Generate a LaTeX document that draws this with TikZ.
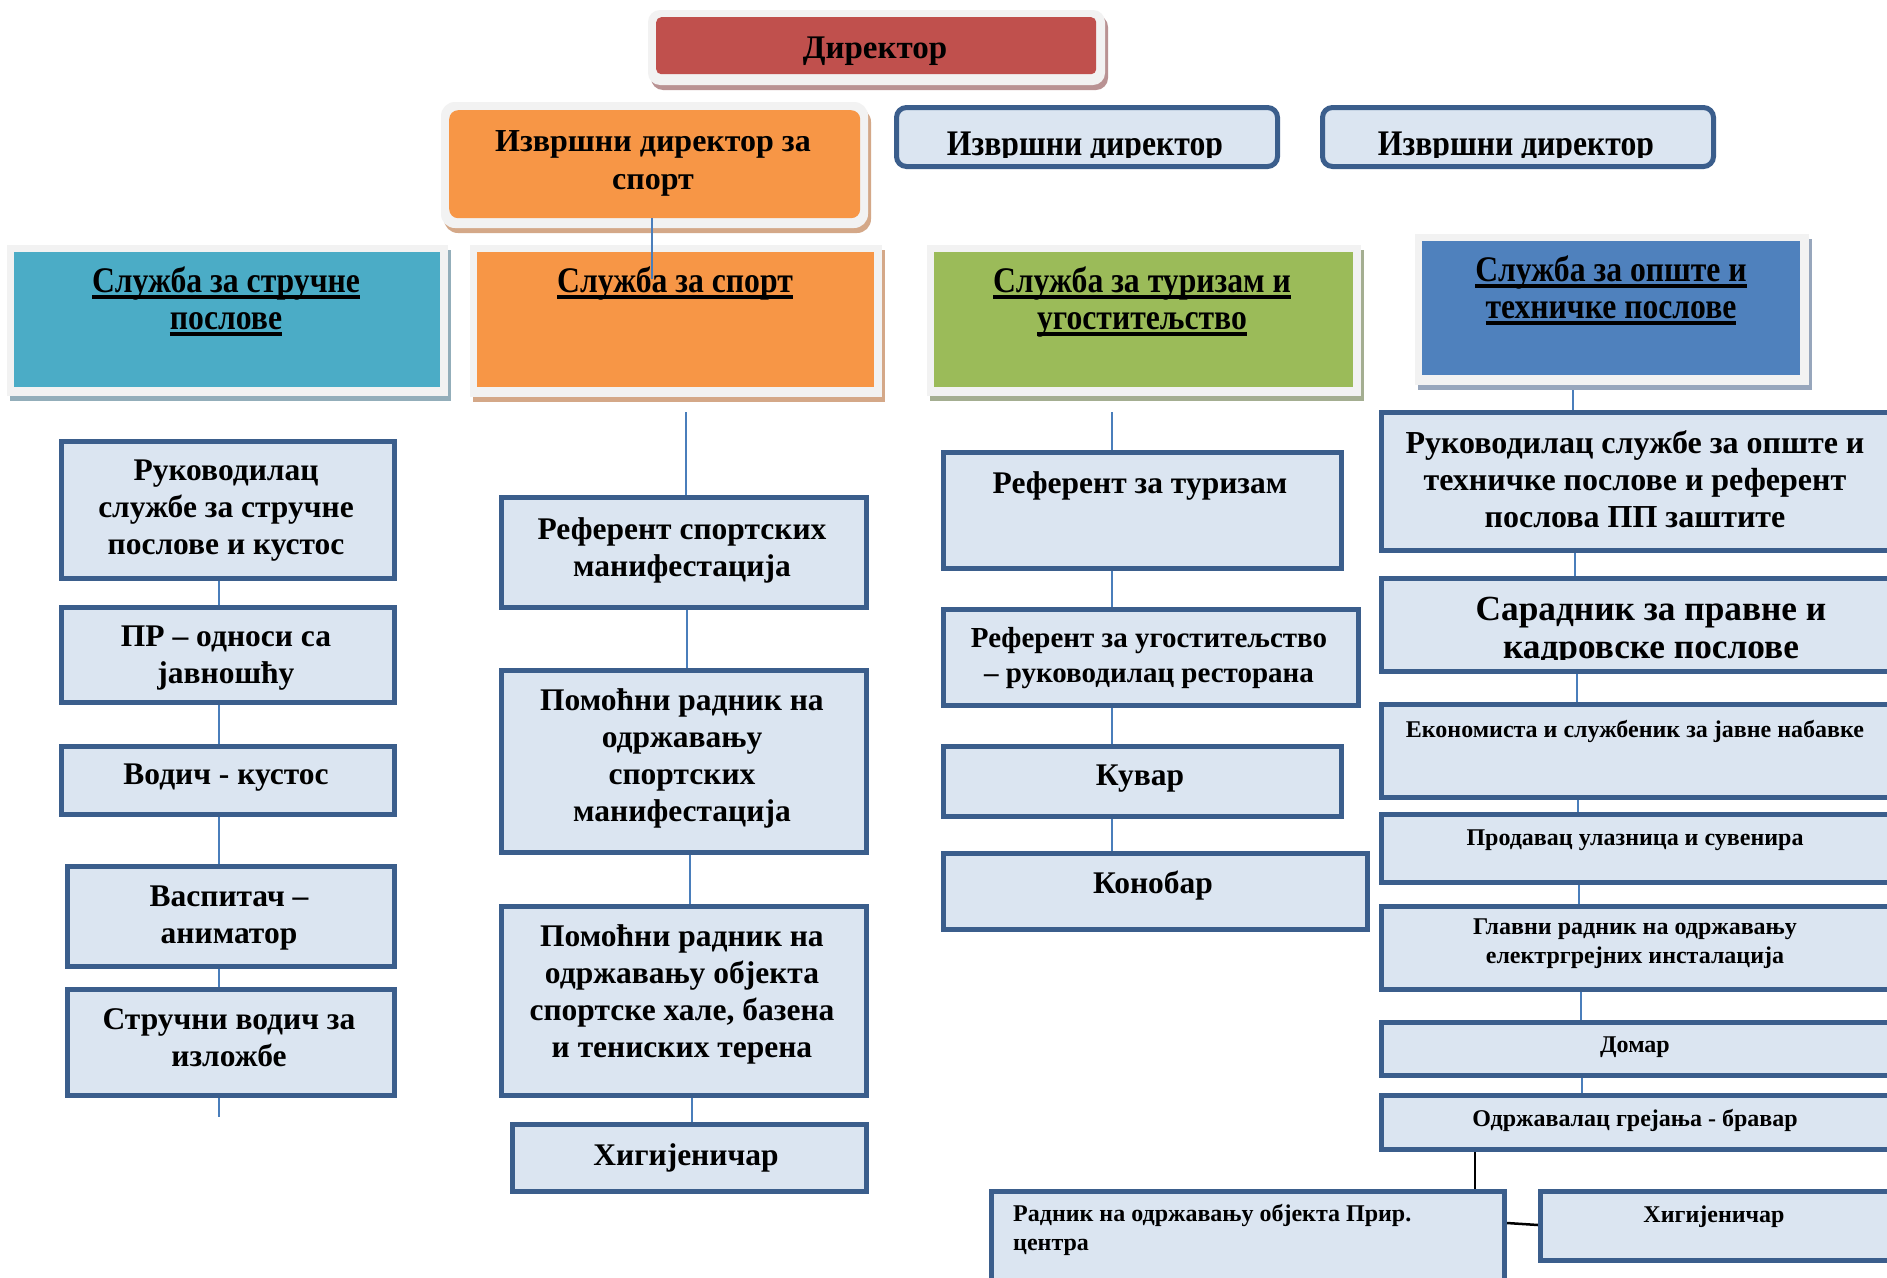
\documentclass[tikz,border=0pt]{standalone}
\usepackage{fontspec}
\setmainfont{Liberation Serif}
\newfontfamily\condf[FakeStretch=0.88]{Liberation Serif}
\definecolor{cred}{HTML}{C0504D}
\definecolor{corange}{HTML}{F79646}
\definecolor{cteal}{HTML}{4BACC6}
\definecolor{cgreen}{HTML}{9BBB59}
\definecolor{cblue}{HTML}{4F81BD}
\definecolor{boxf}{HTML}{DBE5F1}
\definecolor{boxb}{HTML}{3B5E8C}
\definecolor{lineb}{HTML}{4A7EBB}
\definecolor{framec}{HTML}{F2F2F2}
\definecolor{shred}{HTML}{B99293}
\definecolor{shorange}{HTML}{D4A888}
\definecolor{shteal}{HTML}{93AEBA}
\definecolor{shgreen}{HTML}{A4AE91}
\definecolor{shblue}{HTML}{97A6BC}
\pgfdeclarelayer{bg}
\pgfsetlayers{bg,main}
\newsavebox\ulbox
\newcommand\ul[1]{\sbox\ulbox{#1}\rlap{\rule[-6pt]{\wd\ulbox}{3.5pt}}\usebox\ulbox}
\newcommand\bx[6]{\node[#6, anchor=north west, inner sep=0pt, minimum width={#4-#2}, minimum height={#5-#3}] (#1) at (#2,#3) {};}
\tikzset{
  lbox/.style={draw=boxb, line width=5pt, fill=boxf},
  conn/.style={draw=lineb, line width=2pt},
  blk/.style={draw=black, line width=2.5pt},
  tx/.style={inner sep=0pt, align=center, anchor=north},
  fa/.style={font=\bfseries\fontsize{31.5}{37}\selectfont},
  fb/.style={font=\bfseries\fontsize{24}{29}\selectfont},
  fh/.style={font=\condf\bfseries\fontsize{36}{37}\selectfont},
}
\begin{document}
\begin{tikzpicture}[x=1pt,y=-1pt]
\useasboundingbox (0,0) rectangle (1887,1277);
\clip (0,0) rectangle (1887,1277);

\coordinate (x1) at (219,0);
\coordinate (x2a) at (687,0);
\coordinate (x2b) at (690,0);
\coordinate (x2c) at (692,0);
\coordinate (x3) at (1112,0);
\coordinate (x4a) at (1575,0);
\coordinate (x4b) at (1577,0);
\coordinate (x4c) at (1578,0);
\coordinate (x4d) at (1579,0);
\coordinate (x4e) at (1581,0);
\coordinate (x4f) at (1582,0);
\coordinate (xb) at (1475,0);
\coordinate (c2top) at (686,412);
\coordinate (c3top) at (1112,412);
\coordinate (c4top) at (1573,388);
\coordinate (c1end) at (219,1117);
\coordinate (ra) at (1502,1223);
\coordinate (rb) at (1538,1225);

% ---------- header boxes ----------
\fill[shred, rounded corners=12pt] (651,15) rectangle (1108,90);
\fill[framec, rounded corners=12pt] (648,10) rectangle (1105,85);
\bx{dir}{656}{17}{1096}{74}{fill=cred, rounded corners=5pt}

\fill[shorange, rounded corners=14pt] (444,108) rectangle (871,233);
\fill[framec, rounded corners=14pt] (441,102) rectangle (868,228);
\bx{izs}{449}{110}{860}{218}{fill=corange, rounded corners=9pt}

\bx{ied1}{894}{105}{1275}{164}{lbox, rounded corners=10pt}
\bx{ied2}{1320}{105}{1711}{164}{lbox, rounded corners=10pt}

\fill[shteal] (10,250) rectangle (451,401);
\fill[framec] (7,245) rectangle (448,396);
\bx{s1}{14}{252}{440}{387}{fill=cteal}

\fill[shorange] (473,250) rectangle (885,402);
\fill[framec] (470,245) rectangle (882,397);
\bx{s2}{477}{252}{874}{387}{fill=corange}

\fill[shgreen] (930,250) rectangle (1364,401);
\fill[framec] (927,245) rectangle (1361,396);
\bx{s3}{934}{252}{1353}{387}{fill=cgreen}

\fill[shblue] (1418,239) rectangle (1812,390);
\fill[framec] (1415,234) rectangle (1809,385);
\bx{s4}{1422}{241}{1800}{375}{fill=cblue}

% ---------- column boxes ----------
\bx{r1}{59}{439}{392}{576}{lbox}
\bx{pr}{59}{605}{392}{700}{lbox}
\bx{vk}{59}{744}{392}{812}{lbox}
\bx{va}{65}{864}{392}{964}{lbox}
\bx{sv}{65}{987}{392}{1093}{lbox}

\bx{ref}{499}{495}{864}{605}{lbox}
\bx{pr1}{499}{668}{864}{850}{lbox}
\bx{pr2}{499}{904}{864}{1093}{lbox}
\bx{hig}{510}{1122}{864}{1189}{lbox}

\bx{rt}{941}{450}{1339}{566}{lbox}
\bx{ru}{941}{607}{1356}{703}{lbox}
\bx{ku}{941}{744}{1339}{814}{lbox}
\bx{ko}{941}{851}{1365}{927}{lbox}

\bx{rk}{1379}{410}{1900}{548}{lbox}
\bx{sa}{1379}{576}{1900}{669}{lbox}
\bx{ek}{1379}{702}{1900}{795}{lbox}
\bx{pu}{1379}{812}{1900}{880}{lbox}
\bx{gr}{1379}{904}{1900}{987}{lbox}
\bx{do}{1379}{1020}{1900}{1073}{lbox}
\bx{od}{1379}{1093}{1900}{1147}{lbox}
\bx{rad}{989}{1189}{1502}{1300}{lbox}
\bx{hig2}{1538}{1189}{1900}{1258}{lbox}

% ---------- connectors (under the boxes) ----------
\begin{pgfonlayer}{bg}
\fill[white] (0,0) rectangle (1887,1277);
\draw[conn] (r1.south -| x1) -- (pr.north -| x1);
\draw[conn] (pr.south -| x1) -- (vk.north -| x1);
\draw[conn] (vk.south -| x1) -- (va.north -| x1);
\draw[conn] (va.south -| x1) -- (sv.north -| x1);
\draw[conn] (sv.south -| x1) -- (c1end);

\draw[conn] (c2top) -- (ref.north -| c2top);
\draw[conn] (ref.south -| x2a) -- (pr1.north -| x2a);
\draw[conn] (pr1.south -| x2b) -- (pr2.north -| x2b);
\draw[conn] (pr2.south -| x2c) -- (hig.north -| x2c);

\draw[conn] (c3top) -- (rt.north -| c3top);
\draw[conn] (rt.south -| x3) -- (ru.north -| x3);
\draw[conn] (ru.south -| x3) -- (ku.north -| x3);
\draw[conn] (ku.south -| x3) -- (ko.north -| x3);

\draw[conn] (c4top) -- (rk.north -| c4top);
\draw[conn] (rk.south -| x4a) -- (sa.north -| x4a);
\draw[conn] (sa.south -| x4b) -- (ek.north -| x4b);
\draw[conn] (ek.south -| x4c) -- (pu.north -| x4c);
\draw[conn] (pu.south -| x4d) -- (gr.north -| x4d);
\draw[conn] (gr.south -| x4e) -- (do.north -| x4e);
\draw[conn] (do.south -| x4f) -- (od.north -| x4f);
\draw[blk] (od.south -| xb) -- (rad.north -| xb);
\draw[blk] (rad.east |- ra) -- (hig2.west |- rb);
\end{pgfonlayer}

\coordinate (izsend) at (652,279);
\draw[conn] (izs.south -| izsend) -- (izsend);

% ---------- texts ----------
\node[tx, font=\bfseries\fontsize{33}{38}\selectfont] (dirt) at (875,37) {Директор};
\node[tx, font=\bfseries\fontsize{32}{38.5}\selectfont] (izst) at (653,130) {Извршни директор за\\спорт};
\begin{scope}
\clip (894,105) rectangle (1275,157);
\node[tx, font=\condf\bfseries\fontsize{36}{38}\selectfont] (ied1t) at (1085,132) {Извршни директор};
\end{scope}
\begin{scope}
\clip (1320,105) rectangle (1711,157);
\node[tx, font=\condf\bfseries\fontsize{36}{38}\selectfont] (ied2t) at (1516,132) {Извршни директор};
\end{scope}

\node[tx, fh] (s1t) at (226,267) {\ul{Служба за стручне}\\\ul{послове}};
\node[tx, fh] (s2t) at (675,267) {\ul{Служба за спорт}};
\node[tx, fh] (s3t) at (1142,267) {\ul{Служба за туризам и}\\\ul{угоститељство}};
\node[tx, fh] (s4t) at (1611,256) {\ul{Служба за опште и}\\\ul{техничке послове}};

\node[tx, fa] (r1t) at (226,460) {Руководилац\\службе за стручне\\послове и кустос};
\node[tx, fa] (prt) at (226,626) {ПР – односи са\\јавношћу};
\node[tx, fa] (vkt) at (226,764) {Водич - кустос};
\node[tx, fa] (vat) at (229,886) {Васпитач –\\аниматор};
\node[tx, fa] (svt) at (229,1008) {Стручни водич за\\изложбе};

\node[tx, fa] (reft) at (682,517) {Референт спортских\\манифестација};
\node[tx, fa] (pr1t) at (682,688) {Помоћни радник на\\одржавању\\спортских\\манифестација};
\node[tx, fa] (pr2t) at (682,924) {Помоћни радник на\\одржавању објекта\\спортске хале, базена\\и тениских терена};
\node[tx, fa] (higt) at (686,1143) {Хигијеничар};

\node[tx, fa] (rtt) at (1140,471) {Референт за туризам};
\node[tx, font=\bfseries\fontsize{29}{35}\selectfont] (rut) at (1149,627) {Референт за угоститељство\\– руководилац ресторана};
\node[tx, fa] (kut) at (1140,765) {Кувар};
\node[tx, fa] (kot) at (1153,871) {Конобар};

\node[tx, font=\bfseries\fontsize{32}{37}\selectfont] (rkt) at (1635,430) {Руководилац службе за опште и\\техничке послове и референт\\послова ПП заштите};
\begin{scope}
\clip (1379,576) rectangle (1900,659);
\node[tx, font=\bfseries\fontsize{35.3}{37.5}\selectfont] (sat) at (1651,597) {Сарадник за правне и\\кадровске послове};
\end{scope}
\node[tx, fb] (ekt) at (1635,720) {Економиста и службеник за јавне набавке};
\node[tx, fb] (put) at (1635,830) {Продавац улазница и сувенира};
\node[tx, fb] (grt) at (1635,919) {Главни радник на одржавању\\електргрејних инсталација};
\node[tx, fb] (dot) at (1635,1037) {Домар};
\node[tx, fb] (odt) at (1635,1109) {Одржавалац грејања - бравар};
\node[tx, fb, anchor=north west, align=left] (radt) at (1013,1204) {Радник на одржавању објекта Прир.\\центра};
\node[tx, fb] (hig2t) at (1714,1206) {Хигијеничар};
\end{tikzpicture}
\end{document}
